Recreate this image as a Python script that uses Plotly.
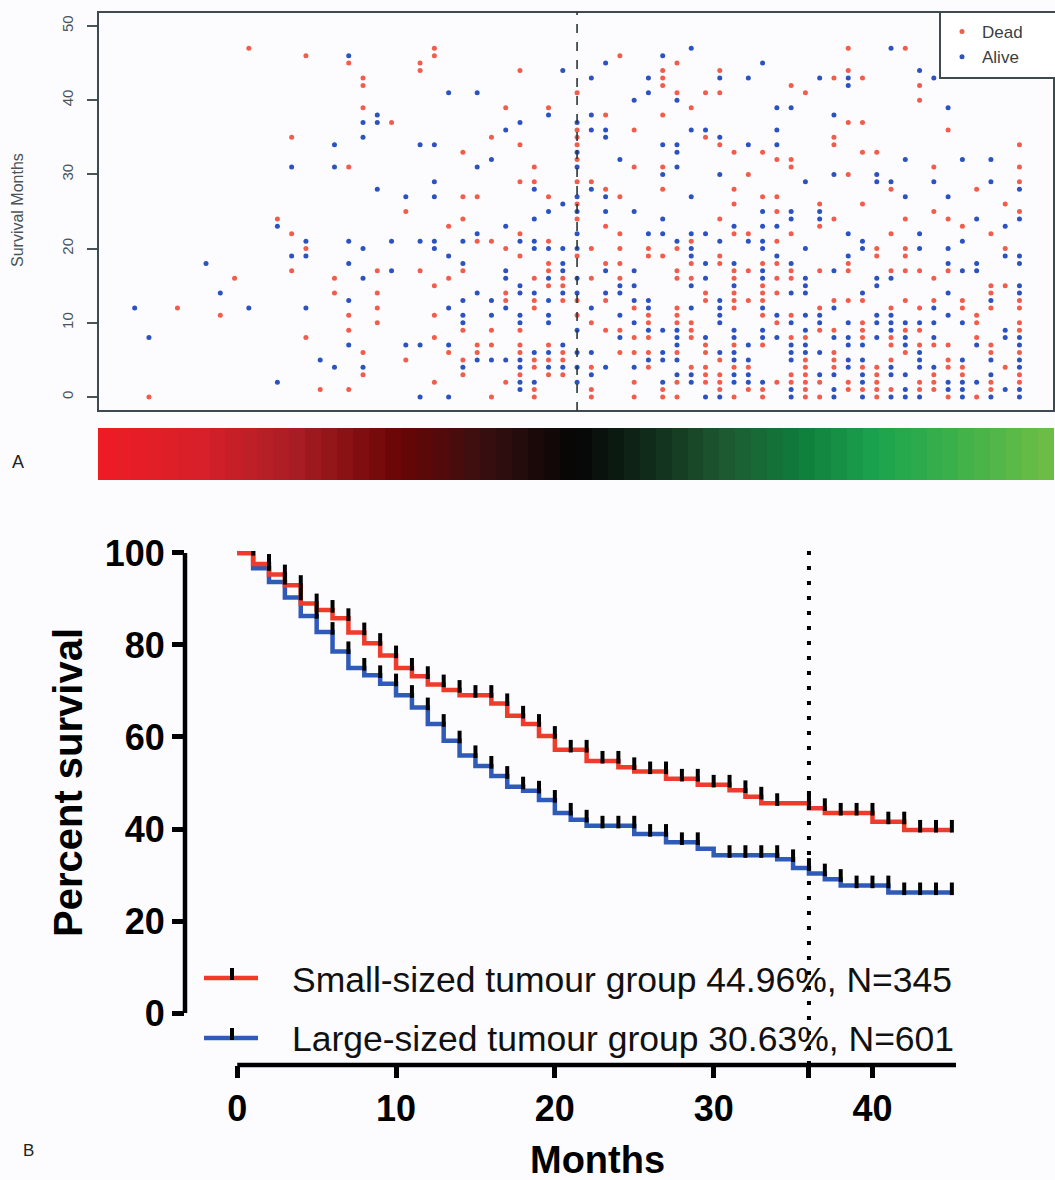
import plotly.graph_objects as go

W, H = 1055, 1180

# ---------------- Panel A data ----------------
# survival months of each patient, grouped by tumour-size column (0 = smallest ... 62 = largest)
dead_months = [
    [], [0], [], [12], [], [], [11], [16], [47], [],
    [24], [35, 22, 17], [46, 20, 8], [1], [16, 14], [45, 31, 11, 9, 1], [43, 42, 39, 6, 3],
    [17, 14, 12, 10], [37], [25, 5],
    [45, 44, 17], [47, 46, 15, 11, 8, 2], [23, 16, 6], [33, 27, 24, 17, 9, 5, 3], [27, 21, 7, 6],
    [35, 21, 9, 7, 0], [39, 20, 14, 13, 2], [44, 34, 29, 22, 19, 9, 7, 6, 3],
    [31, 29, 16, 13, 12, 5, 4, 1, 0], [39, 27, 21, 18, 17, 15, 7, 5, 3],
    [16, 15, 13, 6, 5, 3], [41, 36, 35, 34, 32, 29, 26, 24, 19, 13, 11], [29, 20, 16, 10, 4, 1, 0],
    [38, 28, 23, 18, 13, 9], [46, 27, 22, 20, 18, 16, 9, 6], [36, 31, 12, 8, 6, 2, 0],
    [20, 19, 11, 10, 8, 6, 4], [44, 43, 42, 38, 31, 28, 19, 1, 0],
    [45, 41, 20, 17, 16, 12, 11, 10, 6, 2, 0], [39, 21, 18, 16, 10, 9, 8, 4],
    [41, 35, 14, 13, 7, 6, 4, 3, 2], [44, 41, 34, 24, 19, 18, 5, 3, 2, 1],
    [33, 28, 26, 22, 17, 16, 14, 13, 12, 7, 4, 0], [30, 22, 17, 13, 4, 1],
    [33, 27, 18, 15, 14, 13, 11, 7, 1, 0], [32, 27, 25, 21, 18, 16, 14, 10, 2],
    [42, 32, 31, 22, 17, 16, 11, 8, 3, 2], [41, 8, 5, 4, 3, 2, 1, 0], [26, 23, 17, 12, 9, 2, 0],
    [43, 35, 34, 24, 13, 9, 6, 5, 4], [47, 44, 37, 30, 18, 17, 13, 2, 1],
    [43, 37, 33, 26, 13, 10, 9, 8, 4, 1], [33, 20, 19, 4, 3, 2, 1, 0], [28, 22, 17, 12, 8, 7, 5, 1],
    [47, 24, 20, 19, 17, 13, 9, 6], [42, 40, 17, 12, 9, 7, 2, 1], [31, 25, 16, 13, 7, 3, 2, 1],
    [36, 24, 17, 7, 5, 4, 0], [23, 13, 12, 4, 3], [28, 11, 10, 8, 0], [22, 15, 14, 12, 7, 6, 2, 1],
    [26, 20, 15, 4], [34, 31, 29, 25, 13, 12, 10, 9, 6, 3, 2],
]
alive_months = [
    [12], [8], [], [], [], [18], [14], [], [12], [],
    [23, 2], [31, 19], [21, 19, 12], [5], [34, 31, 4], [46, 21, 18, 13, 7], [37, 35, 20, 16, 4],
    [38, 37, 28], [21, 17], [27, 7],
    [34, 21, 7, 0], [34, 29, 27, 21, 20], [41, 19, 12, 7, 0], [21, 18, 13, 11, 10, 4],
    [41, 31, 22, 14, 5], [32, 13, 11, 5], [36, 23, 17, 16, 12, 5],
    [37, 21, 15, 14, 11, 10, 5, 4, 2, 1], [28, 24, 21, 20, 14, 6, 2],
    [38, 25, 20, 16, 13, 11, 10, 6, 4], [44, 26, 20, 18, 17, 14, 7, 4],
    [37, 33, 31, 27, 25, 22, 20, 16, 14, 9, 6, 4, 2], [43, 38, 36, 28, 12, 6, 3],
    [45, 36, 35, 27, 25, 17, 14, 4], [32, 15, 14, 11, 8], [40, 25, 17, 15, 13, 10, 4],
    [43, 41, 22, 13, 12, 9, 5], [46, 34, 30, 24, 22, 9, 6, 5, 2],
    [40, 34, 33, 31, 21, 9, 8, 7, 5, 3], [47, 36, 27, 22, 20, 19, 15, 12, 3, 2],
    [36, 22, 18, 16, 8, 0], [43, 35, 30, 21, 13, 12, 11, 10, 6, 0], [23, 18, 15, 9, 8, 6, 5, 3, 2],
    [43, 34, 21, 7, 5, 3, 2], [45, 25, 23, 21, 20, 17, 16, 12, 9, 8, 2], [39, 36, 34, 23, 19, 11, 8],
    [39, 25, 24, 18, 14, 10, 7, 6, 5, 1, 0], [29, 20, 16, 15, 14, 11, 9, 7, 6],
    [43, 25, 24, 11, 10, 6, 3], [38, 30, 17, 12, 8, 3, 1, 0], [43, 42, 22, 19, 10, 8, 7, 5, 4],
    [21, 20, 14, 7, 5, 3, 2, 0], [30, 29, 16, 15, 11, 10, 8], [47, 29, 16, 11, 10, 9, 4, 3, 0],
    [32, 27, 10, 8, 7, 3, 1, 0], [44, 22, 20, 10, 6, 5, 4, 0], [43, 29, 12, 10, 8, 4],
    [39, 27, 20, 18, 14, 11, 2, 1], [32, 21, 17, 10, 5, 2, 1, 0], [24, 18, 17, 7, 2],
    [32, 29, 13, 5, 3, 0], [23, 19, 9, 8, 1], [28, 24, 19, 18, 15, 14, 8, 7, 5, 4, 1, 0],
]
cutoff_col = 31
months_ticks_A = [0, 10, 20, 30, 40, 50]
gradient_bands = list(range(60))

# ---------------- Panel B data ----------------
small_t = [0, 1, 2, 3, 4, 5, 6, 7, 8, 9, 10, 11, 12, 13, 14, 16, 17, 18, 19, 20, 22, 24, 25, 27,
           29, 31, 32, 33, 36, 37, 40, 42]
small_s = [100, 97.6, 95.3, 93, 89, 87.6, 85.8, 82.7, 80.4, 77.7, 75, 73.2, 71.4, 70.2, 69.1, 67.3,
           64.6, 62.8, 60.2, 57.2, 54.8, 53.4, 52.5, 50.9, 49.6, 48.4, 47, 45.6, 44.5, 43.5, 41.6, 39.8]
large_t = [0, 1, 2, 3, 4, 5, 6, 7, 8, 9, 10, 11, 12, 13, 14, 15, 16, 17, 18, 19, 20, 21, 22, 25,
           27, 29, 30, 34, 35, 36, 37, 38, 41]
large_s = [100, 96.7, 93.7, 90.3, 86.3, 82.8, 78.6, 75, 73.4, 71.6, 69.1, 66.4, 62.8, 59.2, 56,
           53.7, 51.5, 49.2, 48.3, 46.3, 43.5, 42, 40.7, 38.9, 37.1, 35.7, 34.3, 33.4, 31.5, 30.3,
           29.1, 27.7, 26.2]
small_censor = [1, 2, 3, 4, 5, 6, 7, 8, 9, 10, 11, 12, 13, 14, 15, 16, 17, 18, 19, 20, 21, 22,
                23, 24, 25, 26, 27, 28, 29, 30, 31, 32, 33, 34, 36, 37, 38, 39, 40, 41, 42, 43,
                44, 45]
large_censor = [2, 3, 4, 5, 6, 7, 8, 9, 10, 11, 12, 13, 14, 15, 16, 17, 18, 19, 20, 21, 22, 23,
                24, 25, 26, 27, 28, 29, 31, 32, 33, 34, 35, 36, 37, 38, 39, 40, 41, 42, 43, 44,
                45]
follow_up_end = 45
landmark_month = 36
months_ticks_B = [0, 10, 20, 30, 36, 40]
months_ticktext_B = ["0", "10", "20", "30", "", "40"]
pct_ticks = [0, 20, 40, 60, 80, 100]
small_label = "Small-sized tumour group 44.96%, N=345"
large_label = "Large-sized tumour group 30.63%, N=601"

# ---------------- styling ----------------
FONT = "Liberation Sans, Arial, sans-serif"
BG = "#fcfcfe"
FRAME = "#3d4b50"
RED_A, BLUE_A = "#f25c4b", "#2b52c0"
RED_B, BLUE_B = "#ef3b2b", "#2f5ab8"


def fx(px):
    return px / W


def fy(py):
    return 1 - py / H


def level_before(ts, ss, t):
    v = ss[0]
    for ti, si in zip(ts, ss):
        if ti < t:
            v = si
    return v


fig = go.Figure()

# Panel A scatter
dead_x, dead_y, alive_x, alive_y = [], [], [], []
for k, ms in enumerate(dead_months):
    for m in ms:
        dead_x.append(k)
        dead_y.append(m)
for k, ms in enumerate(alive_months):
    for m in ms:
        alive_x.append(k)
        alive_y.append(m)

fig.add_trace(go.Scatter(x=dead_x, y=dead_y, mode="markers", name="Dead",
                         marker=dict(color=RED_A, size=5), xaxis="x", yaxis="y",
                         hoverinfo="skip"))
fig.add_trace(go.Scatter(x=alive_x, y=alive_y, mode="markers", name="Alive",
                         marker=dict(color=BLUE_A, size=5), xaxis="x", yaxis="y",
                         hoverinfo="skip"))

# colour gradient band
fig.add_trace(go.Heatmap(
    z=[gradient_bands], x=gradient_bands, y=[0], xaxis="x2", yaxis="y2", showscale=False,
    hoverinfo="skip",
    colorscale=[[0.0, "#ed1c24"], [0.1, "#d8202a"], [0.2, "#a91e24"], [0.31, "#6a0505"],
                [0.4, "#3a0f10"], [0.5, "#050505"], [0.58, "#112d1a"], [0.66, "#1d5a32"],
                [0.74, "#0f7d3c"], [0.82, "#1ba44e"], [0.9, "#3bb04a"], [1.0, "#6cbd45"]]))

# Panel B KM curves
fig.add_trace(go.Scatter(x=large_t + [follow_up_end], y=large_s + [large_s[-1]], mode="lines",
                         line=dict(color=BLUE_B, width=4.5, shape="hv"), xaxis="x3", yaxis="y3",
                         showlegend=False, hoverinfo="skip"))
fig.add_trace(go.Scatter(x=small_t + [follow_up_end], y=small_s + [small_s[-1]], mode="lines",
                         line=dict(color=RED_B, width=4.5, shape="hv"), xaxis="x3", yaxis="y3",
                         showlegend=False, hoverinfo="skip"))
for ts, ss, cens in [(large_t, large_s, large_censor), (small_t, small_s, small_censor)]:
    fig.add_trace(go.Scatter(
        x=cens, y=[level_before(ts, ss, t) + 0.8 for t in cens], mode="markers",
        marker=dict(symbol="line-ns", size=9, line=dict(color="black", width=4)),
        xaxis="x3", yaxis="y3", showlegend=False, hoverinfo="skip"))

# ---------------- axes ----------------
xA_range = [-2.57, 64.42]
yA_range = [-1.89, 51.89]
xB_range = [-3.29, 45.26]
yB_range = [-11.3, 100.43]

fig.update_layout(
    width=W, height=H, autosize=False,
    margin=dict(l=0, r=0, t=0, b=0, pad=0, autoexpand=False),
    paper_bgcolor=BG, plot_bgcolor=BG,
    font=dict(family=FONT, color="black"),
    xaxis=dict(domain=[fx(98), fx(1054)], range=xA_range, anchor="y", showticklabels=False,
               ticks="", showgrid=False, zeroline=False, showline=False),
    yaxis=dict(domain=[fy(411), fy(12)], range=yA_range, anchor="x", tickmode="array",
               tickvals=months_ticks_A, ticks="outside", ticklen=10, tickwidth=1.5,
               tickcolor="#4a5458", tickangle=-90, ticklabelstandoff=8,
               tickfont=dict(size=15, color="#4a5458", family=FONT),
               showgrid=False, zeroline=False, showline=False),
    xaxis2=dict(domain=[fx(98), fx(1054)], range=[-0.5, len(gradient_bands) - 0.5], anchor="y2",
                showticklabels=False, ticks="", showgrid=False, zeroline=False),
    yaxis2=dict(domain=[fy(480), fy(428)], range=[-0.5, 0.5], anchor="x2", showticklabels=False,
                ticks="", showgrid=False, zeroline=False),
    xaxis3=dict(domain=[fx(185), fx(956)], range=xB_range, anchor="y3", tickmode="array",
                tickvals=months_ticks_B, ticktext=months_ticktext_B, ticks="outside",
                ticklen=12, tickwidth=4.5, tickcolor="black", ticklabelstandoff=0,
                tickfont=dict(size=36, family=FONT, weight="bold", color="black"),
                showgrid=False, zeroline=False, showline=False),
    yaxis3=dict(domain=[fy(1065), fy(551)], range=yB_range, anchor="x3", tickmode="array",
                tickvals=pct_ticks, ticks="outside", ticklen=12, tickwidth=4.5,
                tickcolor="black", ticklabelstandoff=0,
                tickfont=dict(size=36, family=FONT, weight="bold", color="black"),
                showgrid=False, zeroline=False, showline=False),
    legend=dict(x=fx(942), y=fy(14), xanchor="left", yanchor="top", bgcolor="rgba(0,0,0,0)",
                borderwidth=0, tracegroupgap=0,
                font=dict(size=17, color="#3a3f42", family=FONT)),
    showlegend=True,
)

shapes = []
# Panel A frame, legend box and cutoff line
shapes.append(dict(type="rect", xref="x domain", yref="y domain", x0=0, x1=1, y0=0, y1=1,
                   line=dict(color=FRAME, width=2), layer="above"))
shapes.append(dict(type="rect", xref="paper", yref="paper", x0=fx(940), x1=fx(1060),
                   y0=fy(78), y1=fy(12), fillcolor="white", line=dict(color=FRAME, width=2),
                   layer="above"))
shapes.append(dict(type="line", xref="x", yref="y domain", x0=cutoff_col, x1=cutoff_col,
                   y0=0, y1=1, line=dict(color="#2a3539", width=1.6, dash="dash")))
# Panel B axis lines
shapes.append(dict(type="line", xref="x3 domain", yref="y3", x0=0, x1=0, y0=0, y1=100,
                   line=dict(color="black", width=4.5)))
shapes.append(dict(type="line", xref="x3", yref="y3 domain", x0=0, x1=xB_range[1], y0=0, y1=0,
                   line=dict(color="black", width=4.5)))
# 36-month landmark
shapes.append(dict(type="line", xref="x3", yref="y3", x0=landmark_month, x1=landmark_month,
                   y0=yB_range[0], y1=100.5,
                   line=dict(color="black", width=4, dash="4px,11px")))
# Panel B legend glyphs
for py, col in [(978, RED_B), (1038, BLUE_B)]:
    shapes.append(dict(type="line", xref="paper", yref="paper", x0=fx(204), x1=fx(258),
                       y0=fy(py), y1=fy(py), line=dict(color=col, width=4.5)))
    shapes.append(dict(type="line", xref="paper", yref="paper", x0=fx(232), x1=fx(232),
                       y0=fy(py + 2), y1=fy(py - 10), line=dict(color="black", width=4)))
fig.update_layout(shapes=shapes)

ann = [
    dict(text="Survival Months", x=fx(18), y=fy(210), textangle=-90,
         font=dict(size=16, color="#4a5458")),
    dict(text="A", x=fx(18), y=fy(462), font=dict(size=18, color="#222")),
    dict(text="B", x=fx(28), y=fy(1150), font=dict(size=17, color="#222")),
    dict(text="Percent survival", x=fx(68), y=fy(783), textangle=-90,
         font=dict(size=40, weight="bold", color="black")),
    dict(text="Months", x=fx(597), y=fy(1160), font=dict(size=38, weight="bold", color="black")),
    dict(text=small_label, x=fx(290), y=fy(980), xanchor="left",
         font=dict(size=35.5, color="#111")),
    dict(text=large_label, x=fx(290), y=fy(1039), xanchor="left",
         font=dict(size=35.5, color="#111")),
]
for a in ann:
    a.setdefault("xanchor", "center")
    a.update(xref="paper", yref="paper", showarrow=False, yanchor="middle")
    a["font"].setdefault("family", FONT)
fig.update_layout(annotations=ann)

fig.write_html("out.html", config={"displayModeBar": False},
               post_script="document.body.style.margin='0';"
                           "document.body.style.overflow='hidden';")
